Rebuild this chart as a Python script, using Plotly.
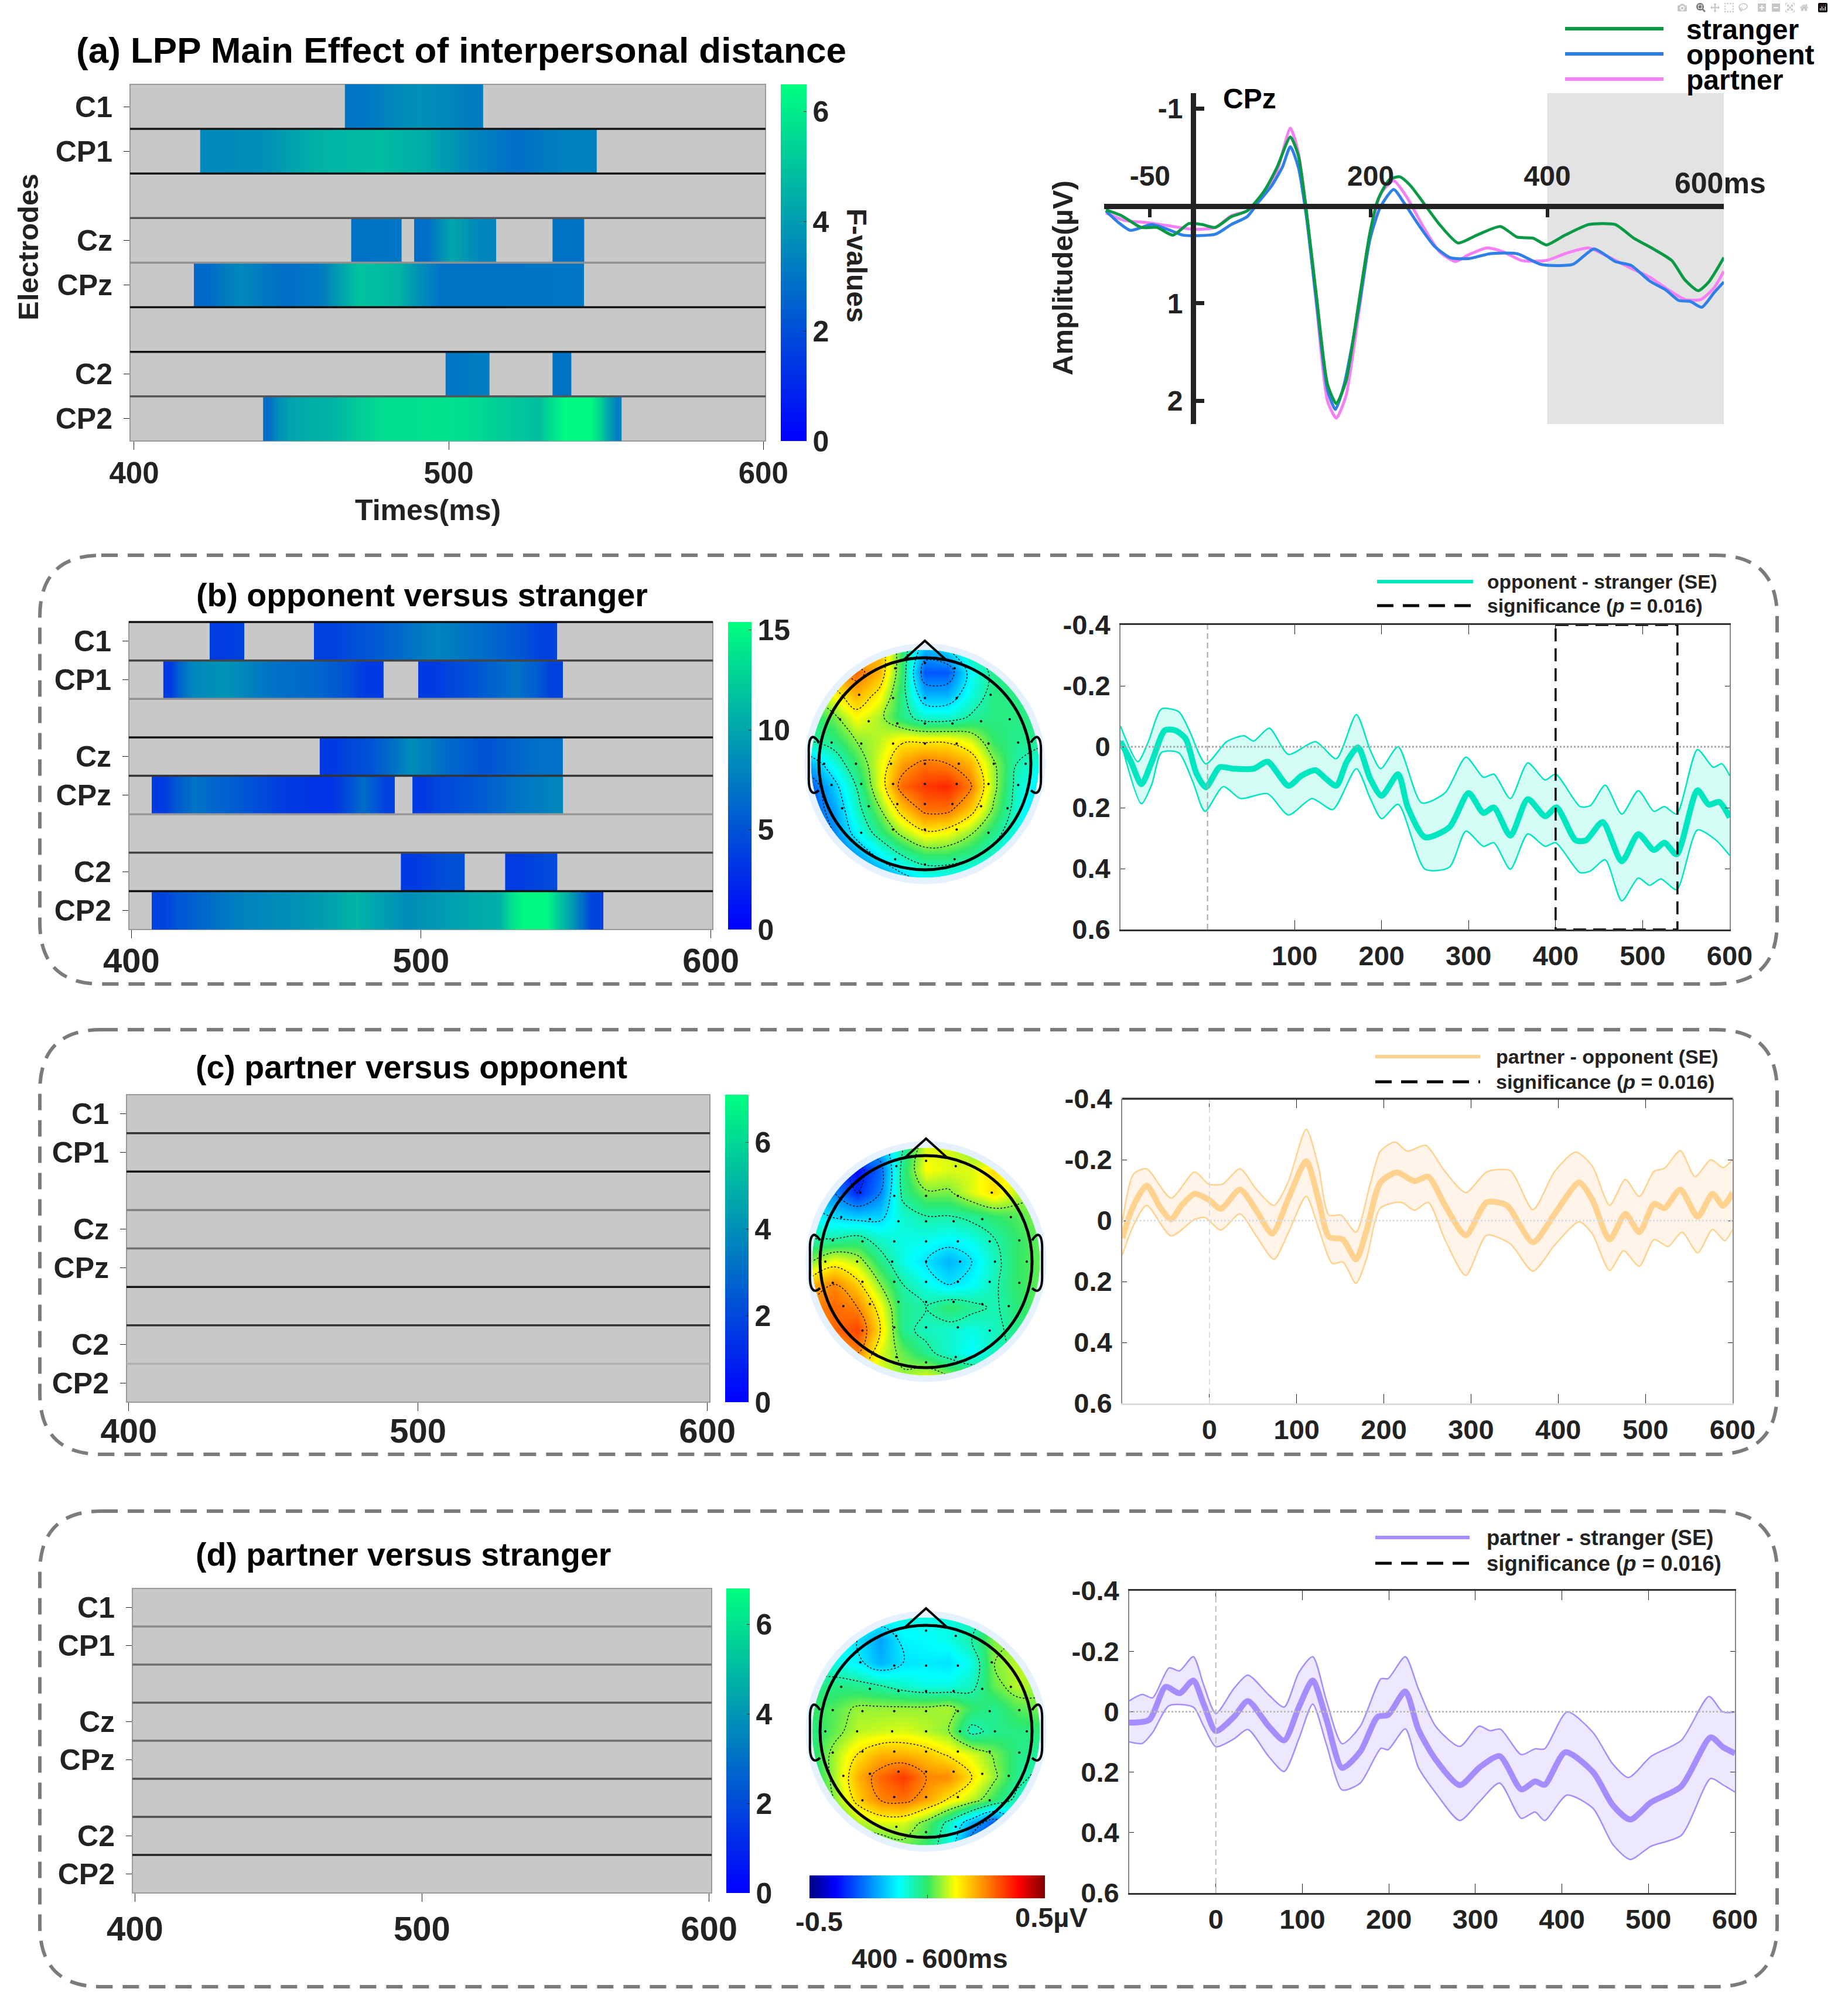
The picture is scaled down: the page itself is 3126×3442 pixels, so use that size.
import numpy as np
import plotly.graph_objects as go

W, H = 3126, 3442
FONT = "Liberation Sans"
DARK = "#222222"

ROWS = ["C1", "CP1", "", "Cz", "CPz", "", "C2", "CP2"]
WINTER = [[0, "#0000ff"], [1, "#00ff80"]]
JET = [[0, "#00007f"], [0.11, "#0000ff"], [0.38, "#00ffff"], [0.5, "#2fe86a"],
       [0.62, "#ffff00"], [0.89, "#ff0000"], [1, "#7f0000"]]

# ---------- F-value segments: (row, times, values), edges of each band in ms
SEG_A = [
    (0, [467, 480, 500, 511], [3.0, 3.7, 3.2]),
    (1, [421, 435, 450, 470, 485, 500, 515, 528, 547], [3.5, 3.7, 4.6, 4.8, 4.4, 3.4, 2.8, 3.3]),
    (3, [469, 477, 485], [2.9, 3.0]),
    (3, [489, 497, 505, 515], [2.8, 4.3, 3.4]),
    (3, [533, 538, 543], [2.9, 2.9]),
    (4, [419, 428, 440, 455, 465, 478, 490, 505, 525, 543], [2.7, 3.5, 2.8, 3.2, 5.0, 4.6, 2.9, 2.9, 3.0]),
    (6, [499, 506, 513], [3.0, 3.2]),
    (6, [533, 536, 539], [2.9, 2.9]),
    (7, [441, 445, 455, 470, 490, 510, 525, 532, 542, 548, 552, 555], [2.8, 4.2, 4.6, 5.7, 5.8, 5.2, 4.8, 6.4, 6.4, 4.4, 3.2]),
]
SEG_B = [
    (0, [427, 433, 439], [3.6, 3.8]),
    (0, [463, 475, 495, 515, 535, 547], [3.8, 5.5, 8.0, 6.2, 4.0]),
    (1, [411, 416, 425, 440, 455, 475, 487], [3.5, 8.0, 9.0, 7.0, 6.2, 3.5]),
    (1, [499, 510, 525, 540, 549], [3.5, 5.0, 7.0, 4.0]),
    (3, [465, 475, 490, 503, 515, 530, 549], [3.5, 5.0, 8.5, 6.5, 5.0, 6.8]),
    (4, [407, 415, 428, 445, 462, 475, 484, 491], [3.5, 7.0, 5.5, 3.5, 3.0, 6.5, 4.0]),
    (4, [497, 505, 525, 540, 549], [3.5, 5.0, 7.0, 8.0]),
    (6, [493, 503, 515], [3.5, 4.8]),
    (6, [529, 538, 547], [3.6, 4.4]),
    (7, [407, 415, 430, 450, 470, 485, 505, 525, 530, 540, 547, 555, 563],
     [4.0, 6.0, 8.0, 9.0, 11.0, 8.5, 10.0, 11.0, 15.0, 15.0, 10.0, 4.0]),
]
SEG_NONE = []

# ---------- CPz ERP
ERP_T_STRANGER = [-100, -82, -60, -42, -24, -6, 9, 24, 42, 60, 79, 94, 109, 118, 127, 139, 151, 161, 172, 187, 199, 208,
                  221, 233, 245, 260, 278, 299, 320, 347, 366, 384, 399, 420, 447, 477, 498, 520, 541, 556, 571, 583, 600]
ERP_STRANGER = [.04, .10, .22, .22, .30, .18, .19, .22, .11, .05, -.15, -.40, -.71, -.52, .04, .96, 1.83, 2.03, 1.80, .96, .28, -.06,
                -.27, -.30, -.21, -.03, .19, .38, .30, .21, .32, .33, .40, .30, .19, .19, .33, .44, .56, .76, .87, .78, .53]
ERP_T_OPPONENT = [-100, -87, -72, -48, -30, -12, 24, 42, 60, 72, 88, 100, 109, 118, 127, 139, 151, 160, 170, 187, 199, 211,
                  226, 238, 254, 272, 290, 311, 335, 366, 393, 429, 453, 477, 495, 516, 534, 549, 562, 575, 589, 600]
ERP_OPPONENT = [.05, .16, .25, .19, .24, .30, .29, .19, .11, -.03, -.21, -.40, -.61, -.40, .10, 1.02, 1.89, 2.09, 1.83, 1.02, .35, .01,
                -.17, -.03, .19, .41, .53, .54, .49, .49, .60, .60, .44, .57, .61, .77, .86, .97, .98, 1.04, .89, .78]
ERP_T_PARTNER = [-100, -78, -54, -24, 0, 24, 42, 60, 79, 94, 109, 118, 127, 139, 151, 161, 172, 187, 199, 211, 226, 241, 260, 278,
                 296, 311, 332, 350, 371, 399, 423, 447, 471, 495, 516, 537, 556, 574, 589, 600]
ERP_PARTNER = [.07, .15, .17, .21, .24, .22, .10, .05, -.12, -.36, -.80, -.55, .04, 1.06, 2.0, 2.18, 1.95, 1.06, .32, -.12, -.26, -.09, .22, .47,
               .57, .50, .43, .47, .56, .56, .48, .43, .53, .64, .73, .86, .96, .96, .84, .67]
ERP_TICKS_X = [-50, 200, 400, 600]
ERP_LABELS_X = ["-50", "200", "400", ""]
ERP_TICKS_Y = [-1, 1, 2]
ERP_LABELS_Y = ["-1", "1", "2"]

# ---------- difference waves
B_T = [-100, -88, -76, -64, -49, -37, -25, -13, -2, 14, 30, 53, 69, 93, 108, 124, 136, 148, 160, 173, 187, 200, 219, 230, 250, 278, 300,
       317, 329, 348, 368, 388, 401, 423, 435, 454, 476, 495, 513, 525, 539, 563, 576, 588, 600]
B_MEAN = [-.017, .049, .123, .049, -.054, -.054, -.026, .086, .133, .067, .072, .072, .049, .128, .095, .077, .105, .128, .049, .002, .105, .161, .09, .198, .297, .264, .152,
          .217, .199, .292, .172, .228, .199, .307, .307, .247, .376, .287, .339, .315, .353, .143, .19, .181, .232]
B_UP_T = [-100, -80, -68, -53, -33, -21, -2, 22, 42, 53, 71, 93, 124, 148, 171, 187, 199, 219, 246, 273, 297, 317, 329, 348, 368, 388, 400,
          428, 440, 457, 476, 495, 513, 525, 539, 563, 581, 591, 600]
B_UP = [-.068, .049, -.017, -.124, -.115, -.054, .056, -.017, -.036, -.019, -.061, .025, -.017, .039, -.106, .011, .072, 0, .184, .151, .034, .1, .09, .17, .053, .109, .09,
        .196, .193, .126, .221, .144, .212, .196, .221, .009, .067, .056, .095]
B_LO_T = [-100, -76, -64, -53, -33, -17, -3, 18, 38, 69, 93, 120, 144, 171, 187, 200, 219, 250, 278, 297, 317, 329, 348, 368, 388, 400,
          428, 440, 457, 476, 495, 508, 521, 539, 563, 584, 600]
B_LO = [-.021, .187, .123, .019, .02, .114, .212, .131, .17, .154, .224, .17, .206, .072, .17, .236, .189, .402, .395, .277, .327, .315, .402, .286, .327, .315,
        .413, .408, .371, .506, .431, .455, .434, .469, .273, .306, .357]

C_T = [-100, -87, -72, -56, -44, -32, -17, -1, 13, 35, 54, 72, 90, 111, 125, 137, 153, 168, 180, 196, 215, 235, 251, 270, 294, 318, 341,
       371, 396, 424, 439, 459, 477, 493, 510, 522, 540, 560, 577, 589, 600]
C_MEAN = [.057, -.05, -.115, -.041, -.004, -.05, -.088, -.069, -.039, -.102, -.032, .043, -.069, -.195, -.069, .053, .062, .127, .034, -.125, -.158, -.13, -.144, -.051, .048, -.06, -.05,
          .071, -.022, -.125, -.069, .062, -.022, .038, -.055, -.041, -.102, -.013, -.088, -.049, -.092]
C_UP_T = [-100, -87, -72, -44, -17, -1, 15, 35, 54, 74, 90, 111, 125, 137, 151, 168, 184, 196, 213, 227, 248, 270, 294, 318, 345, 371, 396,
          420, 439, 459, 477, 493, 510, 522, 540, 557, 575, 589, 600]
C_UP = [.006, -.153, -.17, -.074, -.16, -.12, -.12, -.17, -.102, -.05, -.125, -.30, -.177, -.018, -.018, .038, -.116, -.228, -.258, -.228, -.247, -.162, -.092, -.16, -.164, -.036, -.162,
        -.225, -.18, -.05, -.135, -.079, -.162, -.172, -.23, -.144, -.2, -.174, -.2]
C_LO_T = [-100, -87, -72, -44, -17, -5, 13, 35, 54, 74, 90, 111, 125, 141, 153, 168, 180, 196, 220, 235, 251, 270, 294, 318, 345, 371, 396,
          424, 439, 459, 475, 493, 510, 526, 542, 560, 577, 591, 600]
C_LO = [.113, .015, -.05, .05, -.004, -.01, .031, -.022, .052, .127, .043, -.08, .024, .141, .136, .206, .127, -.041, -.06, -.034, -.06, .062, .18, .048, .076, .166, .08,
        .004, .043, .164, .099, .15, .062, .085, .038, .106, .029, .066, .029]

D_T = [-100, -77, -58, -42, -26, -14, 0, 21, 37, 61, 79, 96, 112, 128, 146, 167, 187, 199, 219, 234, 254, 282, 305, 328, 353, 369, 380,
       404, 436, 459, 479, 503, 538, 572, 586, 600]
D_MEAN = [.036, .027, -.082, -.061, -.103, -.025, .064, .017, -.035, .048, .095, -.015, -.103, .027, .186, .132, .017, .011, -.067, .058, .158, .243, .184, .147, .257, .231, .242,
          .134, .2, .31, .357, .3, .247, .085, .117, .138]
D_UP_T = [-100, -85, -73, -54, -42, -26, -14, 0, 21, 37, 61, 79, 96, 112, 128, 146, 167, 191, 199, 219, 234, 254, 282, 304, 317, 329, 353, 369, 380,
          406, 436, 459, 477, 503, 538, 570, 586, 600]
D_UP = [-.036, -.057, -.046, -.145, -.135, -.182, -.088, .006, -.077, -.121, -.056, -.015, -.13, -.182, -.035, .106, .048, -.109, -.109, -.182, -.077, .048, .115, .048, .063, .058, .142, .123, .123,
        .001, .069, .174, .218, .148, .095, -.05, .001, .001]
D_LO_T = [-100, -85, -73, -54, -26, -14, 0, 21, 37, 61, 79, 96, 112, 128, 146, 167, 191, 199, 219, 234, 254, 282, 304, 328, 353, 369, 380,
          406, 436, 459, 479, 503, 538, 572, 586, 600]
D_LO = [.100, .105, .069, -.02, -.015, .048, .116, .09, .059, .148, .198, .09, -.025, .11, .259, .236, .121, .126, .057, .184, .268, .36, .3, .236, .353, .332, .36,
        .276, .32, .44, .489, .445, .409, .221, .242, .266]

# ---------- scalp maps, rows from front of the head to the back
TOPO_AXIS = [-1.08, -0.864, -0.648, -0.432, -0.216, 0, 0.216, 0.432, 0.648, 0.864, 1.08]
TOPO_Y = [1.08, 0.864, 0.648, 0.432, 0.216, 0, -0.216, -0.432, -0.648, -0.864, -1.08]
TOPO_B = [
    [0, 0, .12, .2, 0, -.2, -.15, -.05, 0, 0, 0],
    [.12, .2, .28, .2, 0, -.3, -.3, -.12, -.03, -.03, -.03],
    [.05, .12, .2, .13, -.02, -.2, -.2, -.1, -.02, -.02, -.02],
    [-.02, .03, .12, .07, -.02, -.08, -.08, -.04, -.02, -.02, -.02],
    [-.05, -.02, .05, .08, .14, .14, .14, .1, 0, -.03, -.03],
    [-.2, -.1, 0, .1, .22, .27, .25, .2, .06, -.05, -.1],
    [-.3, -.18, -.05, .1, .28, .33, .35, .26, .07, -.07, -.15],
    [-.3, -.22, -.08, .04, .18, .27, .27, .18, .04, -.08, -.18],
    [-.3, -.25, -.12, -.02, .07, .14, .12, .06, -.02, -.1, -.2],
    [-.3, -.3, -.22, -.13, -.05, 0, 0, -.03, -.08, -.2, -.25],
    [-.3, -.3, -.3, -.25, -.18, -.12, -.12, -.15, -.2, -.25, -.3],
]
TOPO_C = [
    [0, 0, -.2, -.2, -.05, .1, .1, .05, 0, 0, 0],
    [-.2, -.3, -.38, -.28, -.02, .12, .1, .1, .15, .1, .05],
    [-.2, -.25, -.35, -.25, -.03, .04, .04, .1, .15, .08, .05],
    [-.12, -.16, -.18, -.17, -.08, -.05, -.05, -.03, 0, .02, .05],
    [-.05, -.05, -.03, -.08, -.1, -.1, -.12, -.1, -.05, 0, .03],
    [.05, .12, .08, -.02, -.1, -.15, -.2, -.15, -.07, 0, .03],
    [.2, .25, .17, .05, -.05, -.1, -.15, -.12, -.06, 0, .03],
    [.25, .28, .25, .12, -.03, -.05, 0, -.03, -.06, -.01, .03],
    [.2, .28, .32, .15, -.03, -.07, -.08, -.1, -.07, -.02, .01],
    [.12, .2, .25, .1, .03, -.03, -.08, -.12, -.07, -.03, .02],
    [.1, .12, .12, .1, .06, .1, .05, .02, -.02, 0, 0],
]
TOPO_D = [
    [0, 0, -.08, -.1, -.1, -.1, -.1, -.08, -.02, 0, 0],
    [-.08, -.1, -.15, -.22, -.13, -.12, -.1, -.05, .05, .05, .05],
    [-.08, -.1, -.13, -.2, -.15, -.14, -.15, -.1, .05, .08, .07],
    [-.03, -.02, -.03, -.05, -.08, -.1, -.1, -.07, .03, .08, .06],
    [0, .02, .06, .06, .06, .06, .07, 0, -.03, .02, .04],
    [-.02, .03, .08, .09, .1, .08, .05, -.07, -.03, -.02, -.01],
    [-.02, .07, .15, .2, .2, .18, .14, .1, .04, -.02, -.04],
    [-.03, .07, .2, .28, .33, .25, .24, .15, .06, -.03, -.07],
    [-.05, .05, .17, .25, .27, .22, .14, .08, 0, -.07, -.1],
    [-.07, -.02, .07, .1, .1, .03, -.07, -.2, -.3, -.15, -.1],
    [-.1, -.07, -.03, 0, .03, 0, -.1, -.3, -.35, -.25, -.15],
]
SENSOR_X = [-.28, 0, .28, -.62, -.3, 0, .3, .62, -.8, -.53, -.26, 0, .26, .53, .8, -.88, -.6, -.3, 0, .3, .6, .88,
            -.95, -.65, -.32, 0, .32, .65, .95, -.88, -.6, -.3, 0, .3, .6, .88, -.78, -.53, -.26, 0, .26, .53, .78,
            -.6, -.3, 0, .3, .6, -.28, 0, .28]
SENSOR_Y = [.9, .95, .9, .65, .62, .62, .62, .65, .42, .4, .38, .38, .38, .4, .42, .2, .19, .19, .19, .19, .19, .2,
            0, 0, 0, 0, 0, 0, 0, -.2, -.19, -.19, -.19, -.19, -.19, -.2, -.42, -.4, -.38, -.38, -.38, -.4, -.42,
            -.65, -.62, -.62, -.62, -.65, -.9, -.95, -.9]


def px(x):
    return x / W


def py(y):
    return 1 - y / H


fig = go.Figure()
shapes = []
notes = []


def refs(n):
    return ("x", "y") if n == 1 else (f"x{n}", f"y{n}")


def txt(x, y, s, size, anchor="center", angle=0, color="black"):
    notes.append(dict(x=px(x), y=py(y), xref="paper", yref="paper", text=s, showarrow=False, xanchor=anchor,
                      yanchor="middle", textangle=angle, font=dict(family=FONT, size=size, color=color, weight="bold")))


def hline(x0, x1, y, color, width, dash="solid"):
    shapes.append(dict(type="line", xref="paper", yref="paper", x0=px(x0), x1=px(x1), y0=py(y), y1=py(y),
                       line=dict(color=color, width=width, dash=dash)))


def rounded(x0, y0, x1, y1, r=105):
    p = (f"M {px(x0 + r)} {py(y0)} L {px(x1 - r)} {py(y0)} Q {px(x1)} {py(y0)} {px(x1)} {py(y0 + r)} "
         f"L {px(x1)} {py(y1 - r)} Q {px(x1)} {py(y1)} {px(x1 - r)} {py(y1)} L {px(x0 + r)} {py(y1)} "
         f"Q {px(x0)} {py(y1)} {px(x0)} {py(y1 - r)} L {px(x0)} {py(y0 + r)} Q {px(x0)} {py(y0)} {px(x0 + r)} {py(y0)}")
    shapes.append(dict(type="path", xref="paper", yref="paper", path=p, layer="below",
                       line=dict(color="#7d7a7a", width=6, dash="28px,17px")))


def heat_panel(n, segs, box, trange, ticks_font, standoff, lines, cb_box, cmax, cb_ticks, label_font=50):
    x0, x1, y0, y1 = box
    xr, yr = refs(n)
    xa, ya = xr.replace("x", "xaxis"), yr.replace("y", "yaxis")
    ca = f"coloraxis{n}" if n > 1 else "coloraxis"
    layout = {
        xa: dict(domain=[px(x0), px(x1)], range=trange, anchor=yr, tickvals=[400, 500, 600], ticks="outside", ticklen=14,
                 tickcolor=DARK, showgrid=False, zeroline=False, ticklabelstandoff=standoff, showline=False,
                 tickfont=dict(family=FONT, size=ticks_font, color=DARK, weight="bold")),
        ya: dict(domain=[py(y1), py(y0)], range=[8, 0], anchor=xr, tickvals=[.5, 1.5, 3.5, 4.5, 6.5, 7.5],
                 ticktext=[r for r in ROWS if r], ticks="outside", ticklen=10, tickcolor=DARK, showgrid=False,
                 zeroline=False, ticklabelstandoff=9, tickfont=dict(family=FONT, size=label_font, color=DARK, weight="bold")),
        ca: dict(cmin=0, cmax=cmax, colorscale=WINTER, colorbar=dict(
            x=px(cb_box[0]), xanchor="left", y=py(cb_box[1]), yanchor="top", lenmode="pixels", len=cb_box[2] - cb_box[1],
            thicknessmode="pixels", thickness=cb_box[3], ypad=0, xpad=0, outlinewidth=0, tickvals=cb_ticks, ticks="inside",
            ticklen=5, tickcolor=DARK, tickfont=dict(family=FONT, size=50, color=DARK, weight="bold"))),
    }
    fig.update_layout(**layout)
    shapes.append(dict(type="rect", xref=f"{xr} domain", yref=f"{yr} domain", x0=0, x1=1, y0=0, y1=1, layer="below",
                       fillcolor="#c8c8c8", line=dict(color="#9a9a9a", width=2)))
    if not segs:
        # nothing significant in this panel: the one cell sits past the axis end, it only keeps the colour bar
        fig.add_trace(go.Heatmap(x=[700, 710], y=[0, 1], z=[[0, cmax], [0, cmax]], coloraxis=ca, xaxis=xr, yaxis=yr,
                                 hoverinfo="skip"))
    for row, t, f in segs:
        fig.add_trace(go.Heatmap(x=t, y=[row, row + .5, row + 1], z=[f, f], zsmooth="best", coloraxis=ca, xaxis=xr, yaxis=yr))
    for i, c in enumerate(lines):
        shapes.append(dict(type="line", xref=f"{xr} domain", yref=yr, x0=0, x1=1, y0=i + 1, y1=i + 1,
                           line=dict(color=c, width=3.5)))


def wave_panel(n, box, t, mean, up_t, up, lo_t, lo, color, band, xticks, edge="#333333", guide="#a8a8a8"):
    x0, x1, y0, y1 = box
    xr, yr = f"x{n}", f"y{n}"
    fig.update_layout(**{
        f"xaxis{n}": dict(domain=[px(x0), px(x1)], range=[-100, 600], anchor=yr, tickvals=xticks, ticks="inside", ticklen=16,
                          tickcolor=DARK, showgrid=False, zeroline=False, showline=True, linecolor=edge, linewidth=3,
                          mirror="ticks", ticklabelstandoff=2,
                          tickfont=dict(family=FONT, size=47, color=DARK, weight="bold")),
        f"yaxis{n}": dict(domain=[py(y1), py(y0)], range=[.6, -.4], anchor=xr, tickvals=[-.4, -.2, 0, .2, .4, .6],
                          ticktext=["-0.4", "-0.2", "0", "0.2", "0.4", "0.6"], ticks="inside", ticklen=8, tickcolor=DARK,
                          showgrid=False, zeroline=False, showline=True, linecolor="#888888", linewidth=2, mirror="ticks",
                          ticklabelstandoff=6, tickfont=dict(family=FONT, size=47, color=DARK, weight="bold")),
    })
    common = dict(xaxis=xr, yaxis=yr, hoverinfo="skip", showlegend=False)
    fig.add_trace(go.Scatter(x=lo_t, y=lo, mode="lines", line=dict(color=color, width=2.5, shape="spline", smoothing=.7), **common))
    fig.add_trace(go.Scatter(x=up_t, y=up, mode="lines", line=dict(color=color, width=2.5, shape="spline", smoothing=.7),
                             fill="tonexty", fillcolor=band, **common))
    fig.add_trace(go.Scatter(x=t, y=mean, mode="lines", line=dict(color=color, width=10, shape="spline", smoothing=.7), **common))
    shapes.append(dict(type="line", xref=xr, yref=f"{yr} domain", x0=0, x1=0, y0=0, y1=1,
                       line=dict(color=guide, width=2, dash="10px,6px")))
    shapes.append(dict(type="line", xref=f"{xr} domain", yref=yr, x0=0, x1=1, y0=0, y1=0,
                       line=dict(color=guide, width=3, dash="dot")))


def circle_xy(r, reverse=False):
    a = np.linspace(0, 2 * np.pi, 181)
    if reverse:
        a = a[::-1]
    return r * np.cos(a), r * np.sin(a)


def topo_panel(n, z, cx, cy, r=181, show_bar=False):
    half = 1.3 * r
    xr, yr = f"x{n}", f"y{n}"
    fig.update_layout(**{
        f"xaxis{n}": dict(domain=[px(cx - half), px(cx + half)], range=[-1.3, 1.3], anchor=yr, visible=False),
        f"yaxis{n}": dict(domain=[py(cy + half), py(cy - half)], range=[-1.3, 1.3], anchor=xr, visible=False),
    })
    bar = None
    if show_bar:
        bar = dict(orientation="h", x=px(1382), xanchor="left", y=py(3202), yanchor="top", lenmode="pixels", len=402,
                   thicknessmode="pixels", thickness=39, xpad=0, ypad=0, outlinewidth=0, showticklabels=False,
                   tickvals=[0], ticks="inside", ticklen=6, tickcolor=DARK)
    fig.add_trace(go.Heatmap(x=TOPO_AXIS, y=TOPO_Y, z=z, zmin=-.5, zmax=.5, colorscale=JET, zsmooth="best", xaxis=xr, yaxis=yr,
                             showscale=show_bar, colorbar=bar, hoverinfo="skip"))
    fig.add_trace(go.Contour(x=TOPO_AXIS, y=TOPO_Y, z=z, contours=dict(coloring="none", start=-.35, end=.35, size=.1),
                             line=dict(color="#111111", width=1.5, smoothing=1.1, dash="dot"), showscale=False, xaxis=xr, yaxis=yr,
                             hoverinfo="skip"))
    fig.add_trace(go.Scatter(x=SENSOR_X, y=SENSOR_Y, mode="markers", marker=dict(color="black", size=4), xaxis=xr, yaxis=yr,
                             showlegend=False, hoverinfo="skip"))

    def closed(xs, ys):
        return "M " + " L ".join(f"{a:.4f} {b:.4f}" for a, b in zip(xs, ys)) + " Z"

    disc = closed(*circle_xy(1.075, reverse=True))
    mask = "M -1.2 -1.2 L 1.2 -1.2 L 1.2 1.2 L -1.2 1.2 Z " + disc
    ring = closed(*circle_xy(1.135)) + " " + disc
    shapes.append(dict(type="path", xref=xr, yref=yr, path=mask, fillcolor="white", line=dict(width=0), layer="above"))
    shapes.append(dict(type="path", xref=xr, yref=yr, path=ring, fillcolor="#e6f1ff", line=dict(width=0), layer="above"))
    shapes.append(dict(type="circle", xref=xr, yref=yr, x0=-1, x1=1, y0=-1, y1=1, line=dict(color="black", width=5), layer="above"))
    shapes.append(dict(type="path", xref=xr, yref=yr, path="M -.2 .98 L 0 1.16 L .2 .98", line=dict(color="black", width=4), layer="above"))
    for s in (-1, 1):
        ear = (f"M {s} .2 C {s * 1.06} .3 {s * 1.1} .25 {s * 1.095} .1 L {s * 1.095} -.12 "
               f"C {s * 1.1} -.28 {s * 1.05} -.3 {s} -.25")
        shapes.append(dict(type="path", xref=xr, yref=yr, path=ear, line=dict(color="black", width=4), layer="above"))


# ---------- rounded dashed frames
rounded(68, 948, 3034, 1680)
rounded(68, 1758, 3034, 2483)
rounded(68, 2580, 3034, 3392)

# ---------- time by electrode panels
heat_panel(1, SEG_A, (222, 1307, 144, 753), [398.7, 600.7], 51, -4,
           ["#151515", "#151515", "#555555", "#909090", "#111111", "#111111", "#555555"], (1333, 144, 753, 44), 6.5, [0, 2, 4, 6])
heat_panel(2, SEG_B, (220, 1217, 1062, 1587), [399.1, 600.7], 58, -12,
           ["#444444", "#909090", "#111111", "#333333", "#999999", "#444444", "#111111"], (1243, 1062, 1587, 40), 15.4, [0, 5, 10, 15])
heat_panel(3, SEG_NONE, (216, 1212, 1869, 2394), [399.2, 600.9], 58, -16,
           ["#333333", "#111111", "#808080", "#707070", "#111111", "#333333", "#b0b0b0"], (1238, 1869, 2394, 40), 7.1, [0, 2, 4, 6])
heat_panel(4, SEG_NONE, (226, 1215, 2712, 3232), [399.1, 600.9], 58, -4,
           ["#8a8a8a", "#707070", "#606060", "#707070", "#505050", "#505050", "#222222"], (1240, 2712, 3232, 40), 6.8, [0, 2, 4, 6])
hline(220, 1217, 1062, "#111111", 3.5)

# ---------- ERP panel
ERP_Y0 = 352
fig.update_layout(
    xaxis5=dict(domain=[px(1885), px(2943)], range=[-102, 600], anchor="free", position=py(ERP_Y0), side="top", tickvals=ERP_TICKS_X,
                ticktext=ERP_LABELS_X, ticks="inside", ticklen=14, tickwidth=6, tickcolor=DARK, showline=True, linecolor=DARK, linewidth=9,
                showgrid=False, zeroline=False, ticklabelstandoff=12, tickfont=dict(family=FONT, size=48, color=DARK, weight="bold")),
    yaxis5=dict(domain=[py(724), py(159)], range=[2.24, -1.16], anchor="free", position=px(2037), tickvals=ERP_TICKS_Y, ticktext=ERP_LABELS_Y,
                ticks="inside", ticklen=14, tickwidth=7, tickcolor=DARK, showline=True, linecolor=DARK, linewidth=9, showgrid=False, zeroline=False,
                ticklabelstandoff=4, tickfont=dict(family=FONT, size=48, color=DARK, weight="bold")),
)
shapes.append(dict(type="rect", xref="x5", yref="y5", x0=400, x1=600, y0=-1.16, y1=2.24, layer="below", fillcolor="#e3e3e3", line=dict(width=0)))
for t, v, c in [(ERP_T_PARTNER, ERP_PARTNER, "#f57ff5"), (ERP_T_OPPONENT, ERP_OPPONENT, "#2f7fe8"), (ERP_T_STRANGER, ERP_STRANGER, "#0a9a45")]:
    fig.add_trace(go.Scatter(x=t, y=v, mode="lines", line=dict(color=c, width=5, shape="spline", smoothing=.6), xaxis="x5", yaxis="y5",
                             showlegend=False, hoverinfo="skip"))
for y, c, name in [(49, "#0a9a45", "stranger"), (92, "#2f7fe8", "opponent"), (135, "#f57ff5", "partner")]:
    hline(2672, 2840, y, c, 6)
    txt(2877, y + 1, name, 48, "left")
txt(2133, 168, "CPz", 48)
txt(2857, 313, "600ms", 50, "left", color=DARK)
txt(1814, 475, "Amplitude(µV)", 49, angle=-90, color=DARK)

# ---------- difference waves
wave_panel(6, (1913, 2953, 1067, 1587), B_T, B_MEAN, B_UP_T, B_UP, B_LO_T, B_LO, "#00e6c0", "rgba(0,230,192,.17)", [100, 200, 300, 400, 500, 600])
wave_panel(7, (1916, 2958, 1876, 2396), C_T, C_MEAN, C_UP_T, C_UP, C_LO_T, C_LO, "#ffd28f", "rgba(255,190,110,.17)", [0, 100, 200, 300, 400, 500, 600],
           edge="#dcdcdc", guide="#dddddd")
wave_panel(8, (1928, 2962, 2716, 3232), D_T, D_MEAN, D_UP_T, D_UP, D_LO_T, D_LO, "#a58cff", "rgba(140,110,255,.16)", [0, 100, 200, 300, 400, 500, 600],
           guide="#bdbdbd")
hline(1916, 2958, 1876, "#222222", 3)
shapes.append(dict(type="rect", xref="x6", yref="y6", x0=400, x1=540, y0=-.4, y1=.6, layer="above", line=dict(color="black", width=3.5, dash="22px,12px")))

# legends of the difference waves
for x0, x1, tx, y1, y2, c, s, fs in [
    (2351, 2515, 2537, 993, 1034, "#00e6c0", "opponent - stranger (SE)", 33.5),
    (2348, 2527, 2552, 1804, 1847, "#ffd28f", "partner - opponent (SE)", 34),
    (2348, 2509, 2536, 2625, 2669, "#a58cff", "partner - stranger (SE)", 36.5),
]:
    hline(x0, x1, y1, c, 6)
    hline(x0, x1, y2, "black", 5, "28px,16px")
    txt(tx, y1, s, fs, "left", color=DARK)
    txt(tx, y2, "significance (<i>p</i> = 0.016)", fs, "left", color=DARK)

# ---------- scalp maps
topo_panel(9, TOPO_B, 1579, 1304)
topo_panel(10, TOPO_C, 1581, 2154)
topo_panel(11, TOPO_D, 1581, 2956, show_bar=True)
txt(1398, 3280, "-0.5", 47, color=DARK)
txt(1795, 3273, "0.5µV", 47, color=DARK)
txt(1587, 3343, "400 - 600ms", 47, color=DARK)

# ---------- titles
txt(128, 85, "(a) LPP Main Effect of interpersonal distance", 62, "left")
txt(333, 1016, "(b) opponent versus stranger", 55.5, "left")
txt(332, 1822, "(c) partner versus opponent", 55.5, "left")
txt(332, 2654, "(d) partner versus stranger", 55.5, "left")
txt(48, 422, "Electrodes", 49, angle=-90, color=DARK)
txt(730, 871, "Times(ms)", 50, color=DARK)
txt(1462, 453, "F-values", 48, angle=90, color=DARK)

fig.update_layout(width=W, height=H, margin=dict(l=0, r=0, t=0, b=0, autoexpand=False), plot_bgcolor="rgba(0,0,0,0)", paper_bgcolor="white",
                  showlegend=False, shapes=shapes, annotations=notes)
fig.write_html("out.html", post_script="document.body.style.margin='0'")
